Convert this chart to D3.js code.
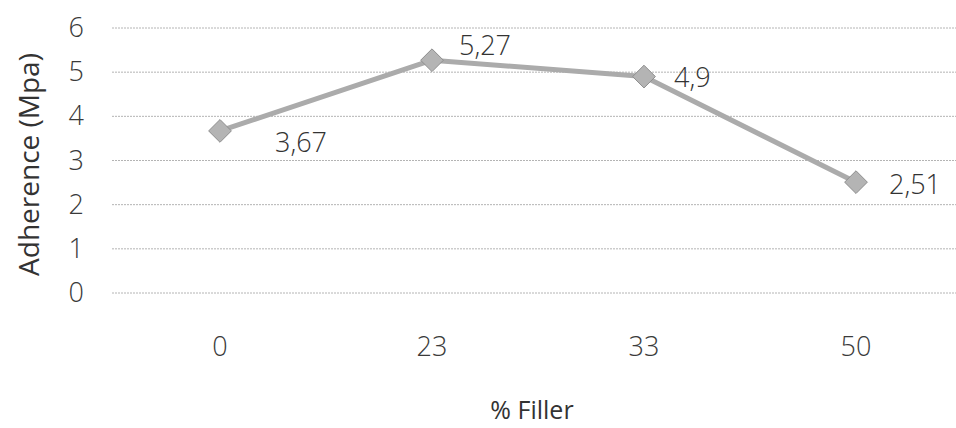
<!DOCTYPE html>
<html>
<head>
<meta charset="utf-8">
<script src="https://cdn.jsdelivr.net/npm/d3@7"></script>
<style>
  html, body { margin: 0; padding: 0; background: #fff; }
  svg { display: block; }
  text { font-family: "Open Sans", "DejaVu Sans", sans-serif; }
</style>
</head>
<body>
<svg id="chart" width="956" height="428"></svg>
<script>
// Adherence vs filler content
const fillerPct = ["0", "23", "33", "50"];
const adherence = [3.67, 5.27, 4.9, 2.51];
const valueLabels = ["3,67", "5,27", "4,9", "2,51"];
const yTicks = [0, 1, 2, 3, 4, 5, 6];

// label placement relative to each point
const labelOffsets = [[55, 12], [27, -15], [30, 1], [33, 2]];

const svg = d3.select("#chart");
const plot = { left: 114, right: 962, top: 28, bottom: 293 };

const x = d3.scaleBand().domain(fillerPct).range([plot.left, plot.right]);
const y = d3.scaleLinear().domain([0, 6]).range([plot.bottom, plot.top]);

// gridlines
svg.append("g")
  .selectAll("line")
  .data(yTicks)
  .join("line")
  .attr("x1", 112).attr("x2", 956)
  .attr("y1", d => y(d)).attr("y2", d => y(d))
  .attr("stroke", "#b4b4b4")
  .attr("stroke-width", 1)
  .attr("stroke-dasharray", "2,1");

// y axis labels
const yAxis = svg.append("g")
  .attr("transform", `translate(${plot.left - 30},0)`)
  .call(d3.axisLeft(y).tickValues(yTicks).tickSize(0).tickPadding(0).tickFormat(d3.format("d")));
yAxis.select(".domain").remove();
yAxis.selectAll("text")
  .attr("font-size", 27)
  .attr("font-weight", 300)
  .attr("fill", "#3a3a3a")
  .attr("font-family", "'Open Sans', sans-serif");

// x axis labels
const xAxis = svg.append("g")
  .attr("transform", `translate(0,${plot.bottom + 44})`)
  .call(d3.axisBottom(x).tickSize(0).tickPadding(0));
xAxis.select(".domain").remove();
xAxis.selectAll("text")
  .attr("font-size", 27)
  .attr("font-weight", 300)
  .attr("fill", "#3a3a3a")
  .attr("font-family", "'Open Sans', sans-serif");

// axis titles
svg.append("text")
  .attr("transform", `translate(39,${(plot.top + plot.bottom) / 2 + 4}) rotate(-90)`)
  .attr("text-anchor", "middle")
  .attr("font-size", 28)
  .attr("fill", "#333")
  .text("Adherence (Mpa)");

svg.append("text")
  .attr("x", 532)
  .attr("y", 419)
  .attr("text-anchor", "middle")
  .attr("font-size", 25)
  .attr("fill", "#333")
  .text("% Filler");

// series line
const pts = fillerPct.map((c, i) => [x(c) + x.bandwidth() / 2, y(adherence[i])]);
svg.append("path")
  .attr("d", d3.line()(pts))
  .attr("fill", "none")
  .attr("stroke", "#ababab")
  .attr("stroke-width", 5)
  .attr("stroke-linejoin", "round");

// diamond markers
svg.append("g")
  .selectAll("path")
  .data(pts)
  .join("path")
  .attr("transform", d => `translate(${d[0]},${d[1]})`)
  .attr("d", d3.symbol(d3.symbolDiamond2, 330)())
  .attr("fill", "#b4b4b4")
  .attr("stroke", "#8e8e8e")
  .attr("stroke-width", 1);

// value labels
svg.append("g")
  .selectAll("text")
  .data(pts)
  .join("text")
  .attr("x", (d, i) => d[0] + labelOffsets[i][0])
  .attr("y", (d, i) => d[1] + labelOffsets[i][1])
  .attr("dy", "0.35em")
  .attr("font-size", 27)
  .attr("font-weight", 300)
  .attr("fill", "#333")
  .text((d, i) => valueLabels[i]);
</script>
</body>
</html>
